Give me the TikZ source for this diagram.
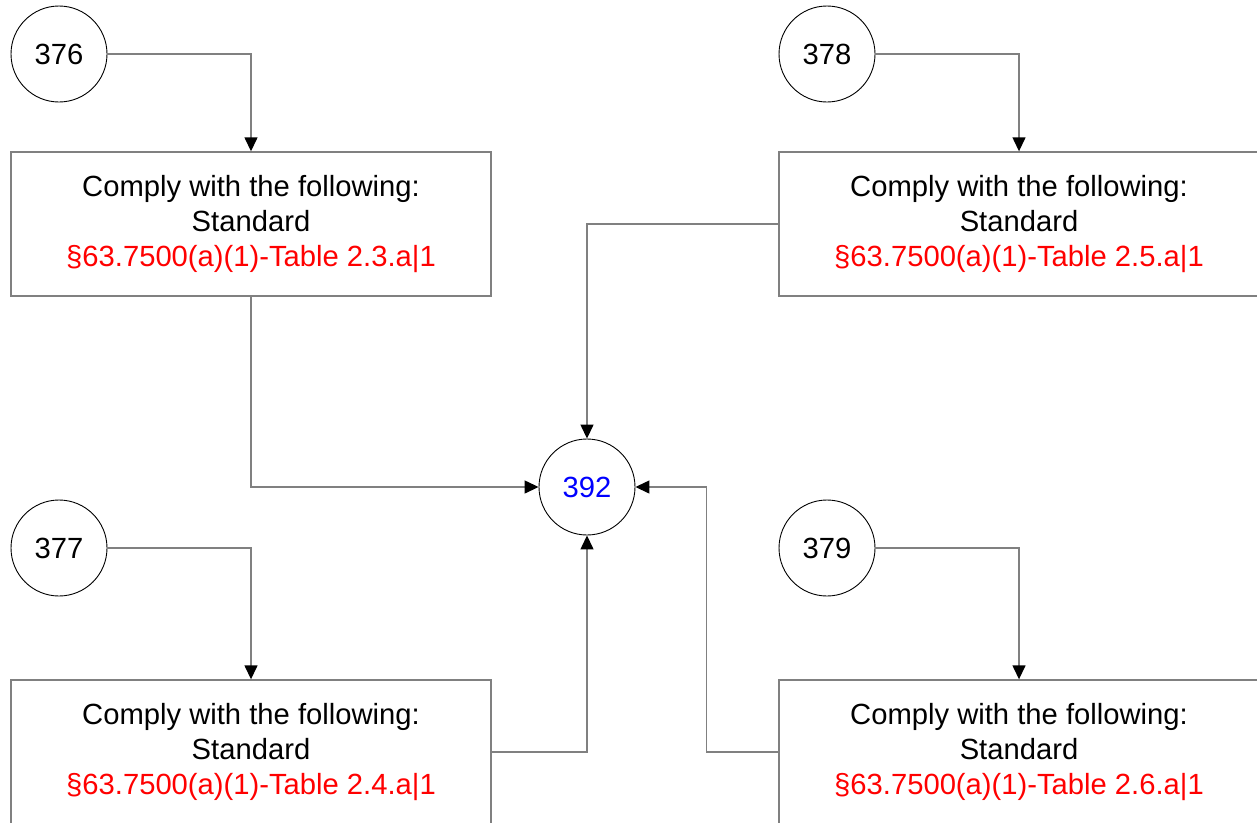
\documentclass[tikz,border=0pt]{standalone}
\usepackage{fontspec}
\setmainfont{Liberation Sans}
\usepackage{xcolor}
\usetikzlibrary{arrows.meta, positioning, calc}

\definecolor{linegray}{RGB}{128,128,128}

\begin{document}
\begin{tikzpicture}[x=1pt, y=-1pt,
    font=\fontsize{29.2}{35}\selectfont,
    ref/.style={circle, draw=black, line width=0.9pt, minimum size=96pt, inner sep=0pt},
    rule/.style={rectangle, draw=linegray, line width=1.4pt, minimum width=480pt, minimum height=144pt, align=center, inner sep=0pt},
    link/.style={draw=linegray, line width=1.4pt, -{Triangle[length=14pt, width=13pt, color=black]}}]
    \useasboundingbox (0,0) rectangle (1257,822);

    % Page references
    \node[ref] (c376) at (59,54) {376};
    \node[ref] (c378) at (827,54) {378};
    \node[ref] (c377) at (59,548) {377};
    \node[ref] (c379) at (827,548) {379};
    \node[ref, text=blue] (c392) at (587,487) {392};

    % Requirements
    \node[rule] (t23) at (251,224) {Comply with the following:\\Standard\\\textcolor{red}{\S63.7500(a)(1)-Table 2.3.a|1}};
    \node[rule] (t25) at (1019,224) {Comply with the following:\\Standard\\\textcolor{red}{\S63.7500(a)(1)-Table 2.5.a|1}};
    \node[rule] (t24) at (251,752) {Comply with the following:\\Standard\\\textcolor{red}{\S63.7500(a)(1)-Table 2.4.a|1}};
    \node[rule] (t26) at (1019,752) {Comply with the following:\\Standard\\\textcolor{red}{\S63.7500(a)(1)-Table 2.6.a|1}};

    % Flow
    \draw[link] (c376.east) -| (t23.north);
    \draw[link] (c378.east) -| (t25.north);
    \draw[link] (c377.east) -| (t24.north);
    \draw[link] (c379.east) -| (t26.north);
    \draw[link] (t23.south) |- (c392.west);
    \draw[link] (t25.west) -| (c392.north);
    \draw[link] (t24.east) -| (c392.south);
    \draw[link] (t26.west) -- ++(-72,0) |- (c392.east);
\end{tikzpicture}
\end{document}
